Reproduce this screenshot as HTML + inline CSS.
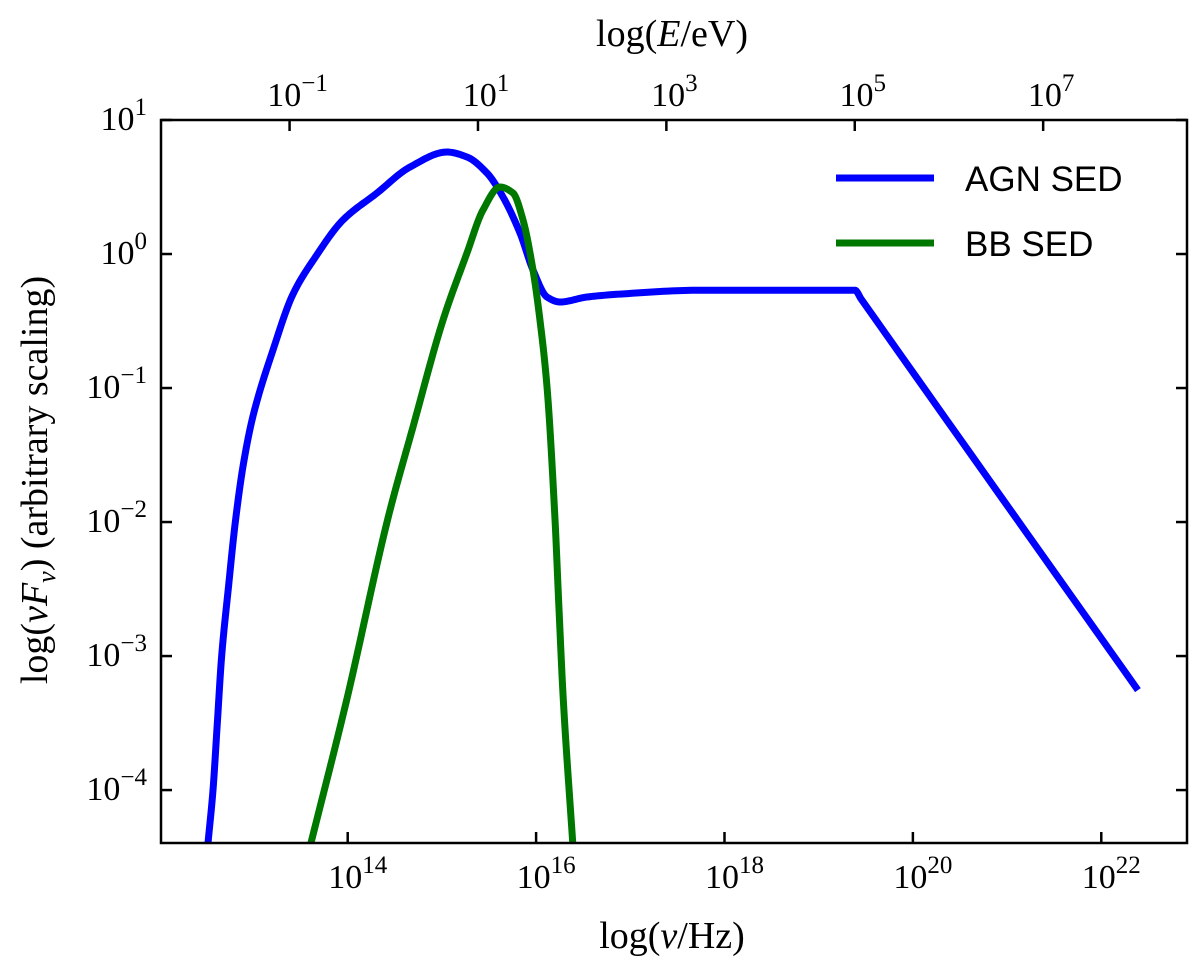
<!DOCTYPE html>
<html><head><meta charset="utf-8"><style>
body{margin:0;background:#fff}
svg text{font-family:"Liberation Serif",serif;fill:#000}
</style></head><body>
<svg id="chart" width="1200" height="963" viewBox="0 0 1200 963" xmlns="http://www.w3.org/2000/svg">
<g id="plot"></g>
<rect x="161" y="120" width="1026" height="723" fill="none" stroke="#000" stroke-width="2.5"/>
<g id="ticks"></g>
<text x="672" y="948" font-size="38" text-anchor="middle">log(<tspan font-style="italic">ν</tspan>/Hz)</text>
<text x="672" y="46" font-size="38" text-anchor="middle">log(<tspan font-style="italic">E</tspan>/eV)</text>
<text transform="translate(47,480) rotate(-90)" font-size="38" text-anchor="middle">log(<tspan font-style="italic">νF<tspan font-size="26" dy="8">ν</tspan></tspan><tspan dy="-8">) (arbitrary scaling)</tspan></text>
<g>
<line x1="836" y1="178" x2="934" y2="178" stroke="#0000ff" stroke-width="7"/>
<text x="965" y="191" font-size="35" style="font-family:'Liberation Sans',sans-serif">AGN SED</text>
<line x1="836" y1="243" x2="934" y2="243" stroke="#007800" stroke-width="7"/>
<text x="965" y="256" font-size="35" style="font-family:'Liberation Sans',sans-serif">BB SED</text>
</g>
</svg>
<script>
const agnLogNu=[12.517,12.570,12.615,12.662,12.735,12.807,12.892,12.998,13.210,13.419,13.65,13.950,14.311,14.661,15.054,15.266,15.479,15.649,15.829,15.967,16.116,16.254,16.540,16.891,17.74,19.385,19.45,22.389];
const agnLogF=[-4.395,-4.0,-3.51,-3.0,-2.48,-2.0,-1.57,-1.2,-0.71,-0.30,-0.03,0.254,0.455,0.649,0.761,0.724,0.604,0.425,0.157,-0.119,-0.321,-0.358,-0.321,-0.299,-0.27,-0.27,-0.335,-3.254];
const bbLogNu=[13.61,13.989,14.428,14.693,15.012,15.266,15.436,15.617,15.755,15.861,15.967,16.041,16.116,16.200,16.24,16.289,16.389];
const bbLogF=[-4.395,-3.328,-1.970,-1.291,-0.493,0.007,0.328,0.500,0.455,0.254,-0.119,-0.493,-0.993,-1.970,-2.6,-3.328,-4.395];
const xTicks=[14,16,18,20,22];
const topTicks=[-1,1,3,5,7];
const yTicks=[1,0,-1,-2,-3,-4];
const X0=161,X1=1187,Y0=120,Y1=843,XMIN=12.018,XMAX=22.91,YMAX=1,YMIN=-4.395,EOFF=14.383;
const sx=v=>X0+(v-XMIN)/(XMAX-XMIN)*(X1-X0);
const sy=v=>Y0+(YMAX-v)/(YMAX-YMIN)*(Y1-Y0);
const NS='http://www.w3.org/2000/svg';
function path(xs,ys){
  const n=xs.length,d=[],m=new Array(n);
  for(let i=0;i<n-1;i++)d.push((ys[i+1]-ys[i])/(xs[i+1]-xs[i]));
  m[0]=d[0];m[n-1]=d[n-2];
  for(let i=1;i<n-1;i++){m[i]=(d[i-1]*d[i]<=0)?0:2/(1/d[i-1]+1/d[i]);}
  let s='';
  for(let i=0;i<n-1;i++){
    const h=xs[i+1]-xs[i];
    for(let k=(i?1:0);k<=20;k++){
      const t=k/20,t2=t*t,t3=t2*t;
      const y=(2*t3-3*t2+1)*ys[i]+(t3-2*t2+t)*h*m[i]+(-2*t3+3*t2)*ys[i+1]+(t3-t2)*h*m[i+1];
      const x=xs[i]+t*h;
      s+=(s?' L':'M')+sx(x).toFixed(2)+','+sy(y).toFixed(2);
    }
  }
  return s;
}
const plot=document.getElementById('plot');
const clip=document.createElementNS(NS,'clipPath');clip.id='cp';
const cr=document.createElementNS(NS,'rect');cr.setAttribute('x',X0);cr.setAttribute('y',Y0);cr.setAttribute('width',X1-X0);cr.setAttribute('height',Y1-Y0);
clip.appendChild(cr);plot.appendChild(clip);
const agn=document.createElementNS(NS,'path');


agn.setAttribute('d',path(agnLogNu,agnLogF));
agn.setAttribute('fill','none');agn.setAttribute('stroke','#0000ff');agn.setAttribute('stroke-width','7');agn.setAttribute('stroke-linejoin','round');agn.setAttribute('clip-path','url(#cp)');
plot.appendChild(agn);
const bb=document.createElementNS(NS,'path');


bb.setAttribute('d',path(bbLogNu,bbLogF));
bb.setAttribute('fill','none');bb.setAttribute('stroke','#007800');bb.setAttribute('stroke-width','7');bb.setAttribute('stroke-linejoin','round');bb.setAttribute('clip-path','url(#cp)');
plot.appendChild(bb);
const tg=document.getElementById('ticks');
function line(x1,y1,x2,y2){const l=document.createElementNS(NS,'line');l.setAttribute('x1',x1);l.setAttribute('y1',y1);l.setAttribute('x2',x2);l.setAttribute('y2',y2);l.setAttribute('stroke','#000');l.setAttribute('stroke-width','2.5');tg.appendChild(l);}
function label(x,y,exp,anchor,name){
  const t=document.createElementNS(NS,'text');
  
  
  t.setAttribute('x',x);t.setAttribute('y',y);t.setAttribute('font-size','34');t.setAttribute('text-anchor',anchor);
  t.innerHTML='10<tspan font-size="25" dy="-15">'+String(exp).replace('-','−')+'</tspan>';
  tg.appendChild(t);
}
xTicks.forEach(v=>{const x=sx(v);line(x,Y1,x,Y1-11);label(x+10,888,v,'middle','x-tick-label');});
topTicks.forEach(v=>{const x=sx(v+EOFF);line(x,Y0,x,Y0+11);label(x+8,106,v,'middle','top-tick-label');});
yTicks.forEach(v=>{const y=sy(v);line(X0,y,X0+11,y);line(X1,y,X1-11,y);label(147,y+10,v,'end','y-tick-label');});
</script>
</body></html>
